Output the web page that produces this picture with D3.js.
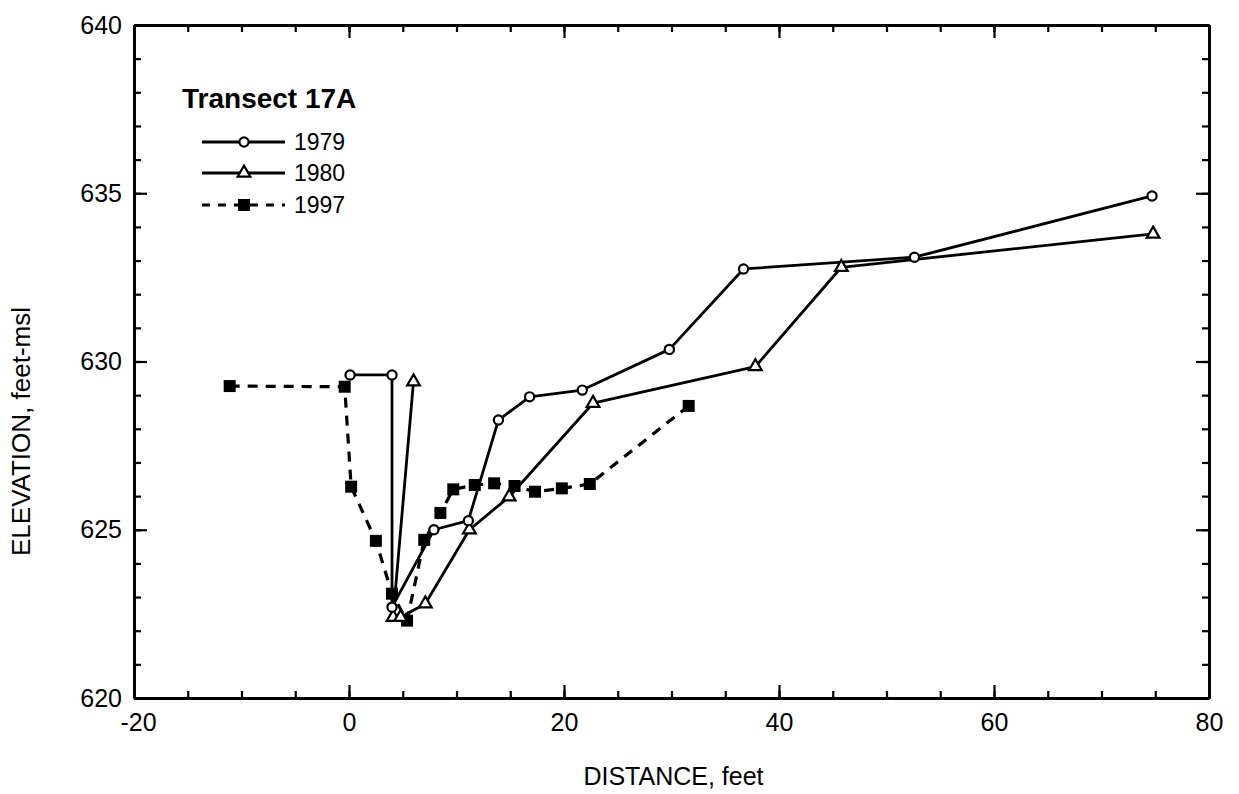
<!DOCTYPE html>
<html>
<head>
<meta charset="utf-8">
<script src="https://cdn.jsdelivr.net/npm/d3@7"></script>
<style>
  html, body { margin: 0; padding: 0; background: #fff; }
  svg { display: block; font-family: "Liberation Sans", Arial, Helvetica, sans-serif; }
</style>
</head>
<body>
<svg id="chart" width="1239" height="794"></svg>
<script>
// Transect 17A channel cross-section surveys (distance in feet, elevation in feet-msl)
const dist1979 = [0.1, 4.0, 4.0, 7.9, 11.1, 13.9, 16.8, 21.7, 29.8, 36.7, 52.6, 74.7];
const elev1979 = [629.6, 629.6, 622.7, 625.0, 625.27, 628.26, 628.95, 629.15, 630.36, 632.75, 633.1, 634.92];

const dist1980 = [6.0, 4.1, 4.8, 7.1, 11.2, 14.9, 22.7, 37.8, 45.8, 74.8];
const elev1980 = [629.4, 622.4, 622.4, 622.8, 625.0, 625.98, 628.76, 629.85, 632.8, 633.79];

const dist1997 = [-11.1, -0.4, 0.2, 2.5, 4.0, 5.4, 7.0, 8.5, 9.7, 11.7, 13.5, 15.4, 17.3, 19.8, 22.4, 31.6];
const elev1997 = [629.27, 629.25, 626.28, 624.67, 623.1, 622.3, 624.7, 625.5, 626.2, 626.33, 626.38, 626.3, 626.13, 626.23, 626.36, 628.68];

const xTicks = [-20, 0, 20, 40, 60, 80];
const yTicks = [620, 625, 630, 635, 640];
const legendTitle = "Transect 17A";
const seriesNames = ["1979", "1980", "1997"];

const svg = d3.select("#chart");
const plotLeft = 134, plotRight = 1209, plotTop = 25, plotBottom = 698;
const labelSize = 25;

const x = d3.scaleLinear().domain([-20, 80]).range([plotLeft, plotRight]);
const y = d3.scaleLinear().domain([620, 640]).range([plotBottom, plotTop]);

const xMinor = d3.range(-20, 80.001, 5);
const yMinor = d3.range(620, 640.001, 1);

function styleAxis(g) {
  g.selectAll("path.domain").attr("stroke", "#000").attr("stroke-width", 3);
  g.selectAll(".tick line").attr("stroke", "#000").attr("stroke-width", 2.2);
  g.selectAll(".tick text").attr("fill", "#000").attr("font-size", labelSize);
}

// minor ticks on all four sides (inward)
svg.append("g").attr("transform", `translate(0,${plotBottom})`)
  .call(d3.axisBottom(x).tickValues(xMinor).tickSizeInner(-7).tickSizeOuter(0).tickFormat(""))
  .call(styleAxis);
svg.append("g").attr("transform", `translate(0,${plotTop})`)
  .call(d3.axisTop(x).tickValues(xMinor).tickSizeInner(-7).tickSizeOuter(0).tickFormat(""))
  .call(styleAxis);
svg.append("g").attr("transform", `translate(${plotLeft},0)`)
  .call(d3.axisLeft(y).tickValues(yMinor).tickSizeInner(-7).tickSizeOuter(0).tickFormat(""))
  .call(styleAxis);
svg.append("g").attr("transform", `translate(${plotRight},0)`)
  .call(d3.axisRight(y).tickValues(yMinor).tickSizeInner(-7).tickSizeOuter(0).tickFormat(""))
  .call(styleAxis);

// major ticks and labels
const xAxisG = svg.append("g").attr("transform", `translate(0,${plotBottom})`)
  .call(d3.axisBottom(x).tickValues(xTicks).tickSizeInner(-13).tickSizeOuter(0).tickPadding(15).tickFormat(d3.format("d")))
  .call(styleAxis);
svg.append("g").attr("transform", `translate(0,${plotTop})`)
  .call(d3.axisTop(x).tickValues(xTicks).tickSizeInner(-13).tickSizeOuter(0).tickFormat(""))
  .call(styleAxis);
svg.append("g").attr("transform", `translate(${plotLeft},0)`)
  .call(d3.axisLeft(y).tickValues(yTicks).tickSizeInner(-13).tickSizeOuter(0).tickPadding(12).tickFormat(d3.format("d")))
  .call(styleAxis);
svg.append("g").attr("transform", `translate(${plotRight},0)`)
  .call(d3.axisRight(y).tickValues(yTicks).tickSizeInner(-13).tickSizeOuter(0).tickFormat(""))
  .call(styleAxis);

// plain hyphen for negative labels; the digits stay centred on the tick
xAxisG.selectAll(".tick text")
  .text(d => d < 0 ? "-" + Math.abs(d) : String(d))
  .attr("dx", d => d < 0 ? "0.16em" : 0);

// axis titles
svg.append("text").attr("x", (plotLeft + plotRight) / 2 + 2).attr("y", 785)
  .attr("text-anchor", "middle").attr("font-size", 25).text("DISTANCE, feet");
svg.append("text").attr("transform", `translate(30,${(plotTop + plotBottom) / 2 + 70}) rotate(-90)`)
  .attr("text-anchor", "middle").attr("font-size", 26).text("ELEVATION, feet-msl");

// series
const line = d3.line().x(d => x(d[0])).y(d => y(d[1]));
const s1979 = d3.zip(dist1979, elev1979);
const s1980 = d3.zip(dist1980, elev1980);
const s1997 = d3.zip(dist1997, elev1997);

const plot = svg.append("g");

plot.append("path").datum(s1997).attr("d", line)
  .attr("fill", "none").attr("stroke", "#000").attr("stroke-width", 3.2).attr("stroke-dasharray", "10,8");
plot.append("path").datum(s1979).attr("d", line)
  .attr("fill", "none").attr("stroke", "#000").attr("stroke-width", 2.8).attr("stroke-linejoin", "round");
plot.append("path").datum(s1980).attr("d", line)
  .attr("fill", "none").attr("stroke", "#000").attr("stroke-width", 2.8).attr("stroke-linejoin", "round");

const square = d3.symbol().type(d3.symbolSquare).size(144);
const tri = d3.symbol().type(d3.symbolTriangle).size(70);

plot.selectAll(".m1997").data(s1997).join("path")
  .attr("transform", d => `translate(${x(d[0])},${y(d[1])})`)
  .attr("d", square).attr("fill", "#000");
plot.selectAll(".m1980").data(s1980).join("path")
  .attr("transform", d => `translate(${x(d[0])},${y(d[1])})`)
  .attr("d", tri).attr("fill", "#fff").attr("stroke", "#000").attr("stroke-width", 2.2);
plot.selectAll(".m1979").data(s1979).join("circle")
  .attr("cx", d => x(d[0])).attr("cy", d => y(d[1])).attr("r", 4.6)
  .attr("fill", "#fff").attr("stroke", "#000").attr("stroke-width", 2.2);

// legend
const lg = svg.append("g");
lg.append("text").attr("x", 182).attr("y", 108).attr("font-size", 28).attr("font-weight", "bold").text(legendTitle);
const rows = [142, 173, 205];
seriesNames.forEach((name, i) => {
  const yy = rows[i];
  const ln = lg.append("line").attr("x1", 202).attr("x2", 285).attr("y1", yy).attr("y2", yy)
    .attr("stroke", "#000").attr("stroke-width", 3);
  if (i === 2) ln.attr("stroke-dasharray", "8,8");
  if (i === 0) {
    lg.append("circle").attr("cx", 244).attr("cy", yy).attr("r", 4.6)
      .attr("fill", "#fff").attr("stroke", "#000").attr("stroke-width", 2.2);
  } else if (i === 1) {
    lg.append("path").attr("transform", `translate(244,${yy})`).attr("d", tri)
      .attr("fill", "#fff").attr("stroke", "#000").attr("stroke-width", 2.2);
  } else {
    lg.append("path").attr("transform", `translate(244,${yy})`).attr("d", square).attr("fill", "#000");
  }
  lg.append("text").attr("x", 294).attr("y", yy + 8).attr("font-size", 23).text(name);
});
</script>
</body>
</html>
